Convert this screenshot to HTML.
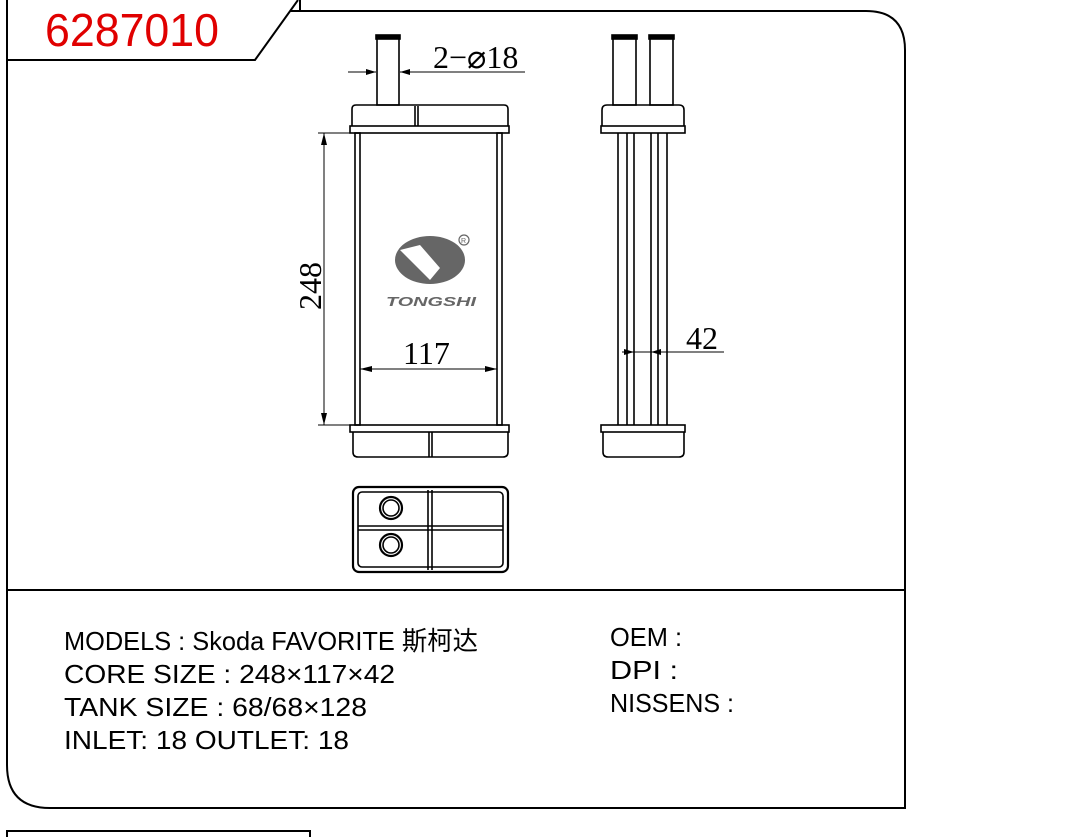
<!DOCTYPE html>
<html><head><meta charset="utf-8"><style>html,body{margin:0;padding:0;background:#fff}svg{display:block}</style></head><body>
<svg width="1071" height="837" viewBox="0 0 1071 837" xmlns="http://www.w3.org/2000/svg" font-family="Liberation Sans, Noto Sans CJK SC, sans-serif">
<g fill="none" stroke="#000" stroke-width="2">
<path d="M7 0 V765 Q7 808 50 808 H905 V50 Q905 11 866 11 H290"/>
<path d="M7 60 H255 L298 0"/>
<path d="M300 0 V11"/>
<line x1="7" y1="590" x2="905" y2="590"/>
<rect x="7" y="831" width="303" height="10"/>
</g>
<text x="45" y="46" font-size="46" fill="#e00000" textLength="174" lengthAdjust="spacingAndGlyphs">6287010</text>
<g fill="none" stroke="#000" stroke-width="1.6">
<rect x="377" y="37" width="22" height="68"/><rect x="376" y="35" width="24" height="4" fill="#000"/>
<path d="M352 126 V109 Q352 105 356 105 H504 Q508 105 508 109 V126"/>
<rect x="350" y="126" width="159" height="7"/>
<line x1="415" y1="106" x2="415" y2="126"/><line x1="418" y1="106" x2="418" y2="126"/>
<rect x="355" y="133" width="5" height="292"/><rect x="497" y="133" width="5" height="292"/>
<rect x="350" y="425" width="159" height="7"/>
<path d="M353 432 V452 Q353 457 358 457 H503 Q508 457 508 452 V432"/>
<line x1="429" y1="432" x2="429" y2="457"/><line x1="432" y1="432" x2="432" y2="457"/>
<rect x="613" y="37" width="23" height="68"/><rect x="612" y="35" width="25" height="4" fill="#000"/>
<rect x="650" y="37" width="23" height="68"/><rect x="649" y="35" width="25" height="4" fill="#000"/>
<path d="M602 126 V110 Q602 105 607 105 H679 Q684 105 684 110 V126"/>
<rect x="601" y="126" width="84" height="7"/>
<line x1="618" y1="133" x2="618" y2="425"/><line x1="627" y1="133" x2="627" y2="425"/><line x1="634" y1="133" x2="634" y2="425"/>
<line x1="651" y1="133" x2="651" y2="425"/><line x1="658" y1="133" x2="658" y2="425"/><line x1="667" y1="133" x2="667" y2="425"/>
<rect x="601" y="425" width="84" height="7"/>
<path d="M603 432 V452 Q603 457 608 457 H679 Q684 457 684 452 V432"/>
<rect x="353" y="487" width="155" height="85" rx="6" stroke-width="2.2"/>
<rect x="358" y="492" width="145" height="75" rx="4"/>
<line x1="358" y1="526" x2="503" y2="526"/><line x1="358" y1="530" x2="503" y2="530"/>
<line x1="428" y1="490" x2="428" y2="570"/><line x1="432" y1="490" x2="432" y2="570"/>
<circle cx="391" cy="508" r="11" stroke-width="2.2"/><circle cx="391" cy="508" r="8"/>
<circle cx="391" cy="545" r="11" stroke-width="2.2"/><circle cx="391" cy="545" r="8"/>
</g>
<g stroke="#000" stroke-width="1" fill="none">
<line x1="348" y1="72" x2="376" y2="72"/><line x1="400" y1="72" x2="525" y2="72"/>
<line x1="318" y1="133" x2="355" y2="133"/><line x1="318" y1="425" x2="355" y2="425"/>
<line x1="324" y1="133" x2="324" y2="425"/>
<line x1="360" y1="369" x2="497" y2="369"/>
<line x1="622" y1="352" x2="724" y2="352"/>
</g>
<g fill="#000">
<path d="M376 72 l-10 -3 v6z"/><path d="M400 72 l10 -3 v6z"/>
<path d="M324 133 l-3 12 h6z"/><path d="M324 425 l-3 -12 h6z"/>
<path d="M360 369 l12 -3 v6z"/><path d="M497 369 l-12 -3 v6z"/>
<path d="M634 352 l-10 -3 v6z"/><path d="M651 352 l10 -3 v6z"/>
</g>
<g font-family="Liberation Serif, serif" font-size="32" fill="#000">
<text x="433" y="68">2−⌀18</text>
<text x="403" y="364">117</text>
<text x="686" y="349">42</text>
<text transform="translate(321,310) rotate(-90)">248</text>
</g>
<g>
<ellipse cx="430" cy="260" rx="35" ry="24" fill="#666"/>
<path d="M400 250 L420 245 L440 268 L430 280 Z" fill="#fff"/>
<circle cx="464" cy="240" r="5" fill="none" stroke="#666" stroke-width="1.2"/>
<text x="461" y="243" font-size="7" fill="#666">R</text>
<text x="386" y="306" font-size="13" font-weight="bold" font-style="italic" fill="#666" textLength="90" lengthAdjust="spacingAndGlyphs">TONGSHI</text>
</g>
<g font-size="26" fill="#000">
<text x="64" y="650" textLength="414" lengthAdjust="spacingAndGlyphs">MODELS : Skoda FAVORITE 斯柯达</text>
<text x="64" y="683" textLength="331" lengthAdjust="spacingAndGlyphs">CORE SIZE : 248×117×42</text>
<text x="64" y="716" textLength="303" lengthAdjust="spacingAndGlyphs">TANK SIZE : 68/68×128</text>
<text x="64" y="749" textLength="285" lengthAdjust="spacingAndGlyphs">INLET: 18  OUTLET: 18</text>
<text x="610" y="646" textLength="72" lengthAdjust="spacingAndGlyphs">OEM :</text>
<text x="610" y="679" textLength="68" lengthAdjust="spacingAndGlyphs">DPI :</text>
<text x="610" y="712" textLength="124" lengthAdjust="spacingAndGlyphs">NISSENS :</text>
</g>
</svg>
</body></html>
